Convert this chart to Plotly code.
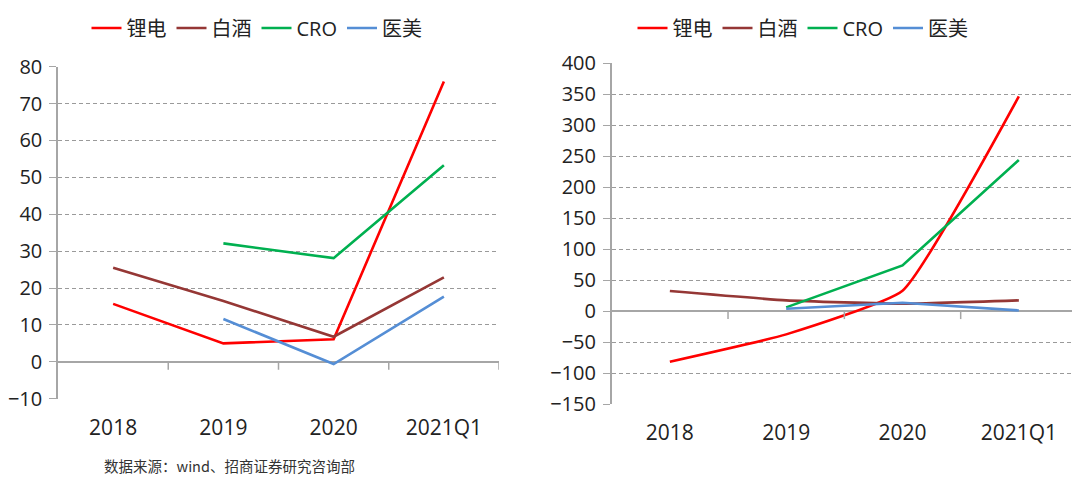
import plotly.graph_objects as go

categories = ["2018", "2019", "2020", "2021Q1"]
series_names = ["锂电", "白酒", "CRO", "医美"]
colors = ["#FF0000", "#953735", "#00B050", "#558ED5"]

left_lidian = [15.7, 5.0, 6.1, 76.0]
left_baijiu = [25.5, 16.5, 6.8, 22.9]
left_cro = [None, 32.1, 28.1, 53.3]
left_yimei = [None, 11.6, -0.6, 17.7]

right_lidian = [-81.7, -37.6, 32.9, 346.6]
right_baijiu = [32.3, 17.3, 11.8, 17.3]
right_cro = [None, 6.0, 73.8, 244.0]
right_yimei = [None, 3.8, 13.5, 1.0]

left_ticks = [-10, 0, 10, 20, 30, 40, 50, 60, 70, 80]
right_ticks = [-150, -100, -50, 0, 50, 100, 150, 200, 250, 300, 350, 400]

source_text = "数据来源：wind、招商证券研究咨询部"

FONT = "Open Sans, Noto Sans CJK SC, sans-serif"
x_idx = list(range(len(categories)))

W, H = 1080, 481
OFF = 8  # page body margin


def px(x):
    return (x - OFF) / W


def py(y):
    return 1 - (y - OFF) / H


fig = go.Figure()

left_data = [left_lidian, left_baijiu, left_cro, left_yimei]
right_data = [right_lidian, right_baijiu, right_cro, right_yimei]
right_shapes = ["spline", "spline", "linear", "linear"]

for name, col, vals in zip(series_names, colors, left_data):
    fig.add_trace(go.Scatter(x=x_idx, y=vals, name=name, mode="lines",
                             line=dict(color=col, width=2.6),
                             xaxis="x", yaxis="y", legend="legend",
                             connectgaps=False, hoverinfo="skip"))
for name, col, vals, shp in zip(series_names, colors, right_data, right_shapes):
    fig.add_trace(go.Scatter(x=x_idx, y=vals, name=name, mode="lines",
                             line=dict(color=col, width=2.6, shape=shp, smoothing=0.4),
                             xaxis="x2", yaxis="y2", legend="legend2",
                             connectgaps=False, hoverinfo="skip"))

xfont = dict(family=FONT, size=21, color="#222222")
yfont = dict(family=FONT, size=20, color="#222222")
xcommon = dict(range=[-0.5, 3.5], tickmode="array", tickvals=x_idx, ticktext=categories,
               showgrid=False, zeroline=False, showline=False, ticks="",
               tickfont=xfont, ticklabelstandoff=14, fixedrange=True, automargin=False)
ycommon = dict(showgrid=True, gridcolor="#9a9a9a", griddash="4px,3px", gridwidth=1,
               zeroline=True, zerolinecolor="#a6a6a6", zerolinewidth=1.5,
               showline=True, linecolor="#a6a6a6", linewidth=1.5,
               ticks="outside", ticklen=7, tickcolor="#a6a6a6",
               tickfont=yfont, ticklabelstandoff=3, fixedrange=True, automargin=False)

legend_font = dict(family=FONT, size=20, color="#222222")

fig.update_layout(
    width=W, height=H,
    margin=dict(l=0, r=0, t=0, b=0, autoexpand=False),
    paper_bgcolor="white", plot_bgcolor="white",
    font=dict(family=FONT, color="#222222"),
    xaxis=dict(domain=[px(58), px(499)], anchor="y", **xcommon),
    yaxis=dict(domain=[py(398.7), py(66.7)], anchor="x", range=[-10, 80],
               tickvals=left_ticks, **ycommon),
    xaxis2=dict(domain=[px(611.7), px(1077)], anchor="y2", **xcommon),
    yaxis2=dict(domain=[py(404), py(63.3)], anchor="x2", range=[-150, 400],
                tickvals=right_ticks, **ycommon),
    legend=dict(orientation="h", x=px(257), y=py(28), xanchor="center", yanchor="middle",
                font=legend_font, itemwidth=30, tracegroupgap=0, bgcolor="rgba(0,0,0,0)"),
    legend2=dict(orientation="h", x=px(803), y=py(28), xanchor="center", yanchor="middle",
                 font=legend_font, itemwidth=30, tracegroupgap=0, bgcolor="rgba(0,0,0,0)"),
    showlegend=True,
)

# category boundary tick marks on the zero line
shapes = []
for xr, yr in (("x", "y"), ("x2", "y2")):
    for b in [0.5, 1.5, 2.5, 3.5]:
        shapes.append(dict(type="line", xref=xr, yref=yr, x0=b, x1=b,
                           ysizemode="pixel", yanchor=0, y0=0, y1=-8,
                           line=dict(color="#a6a6a6", width=1.5)))
fig.update_layout(shapes=shapes)

fig.add_annotation(text=source_text, xref="paper", yref="paper",
                   x=px(102), y=py(465), xanchor="left", yanchor="middle",
                   showarrow=False, font=dict(family="Noto Sans CJK SC, sans-serif",
                                              size=14.5, color="#333333"))

fig.write_html("out.html")
